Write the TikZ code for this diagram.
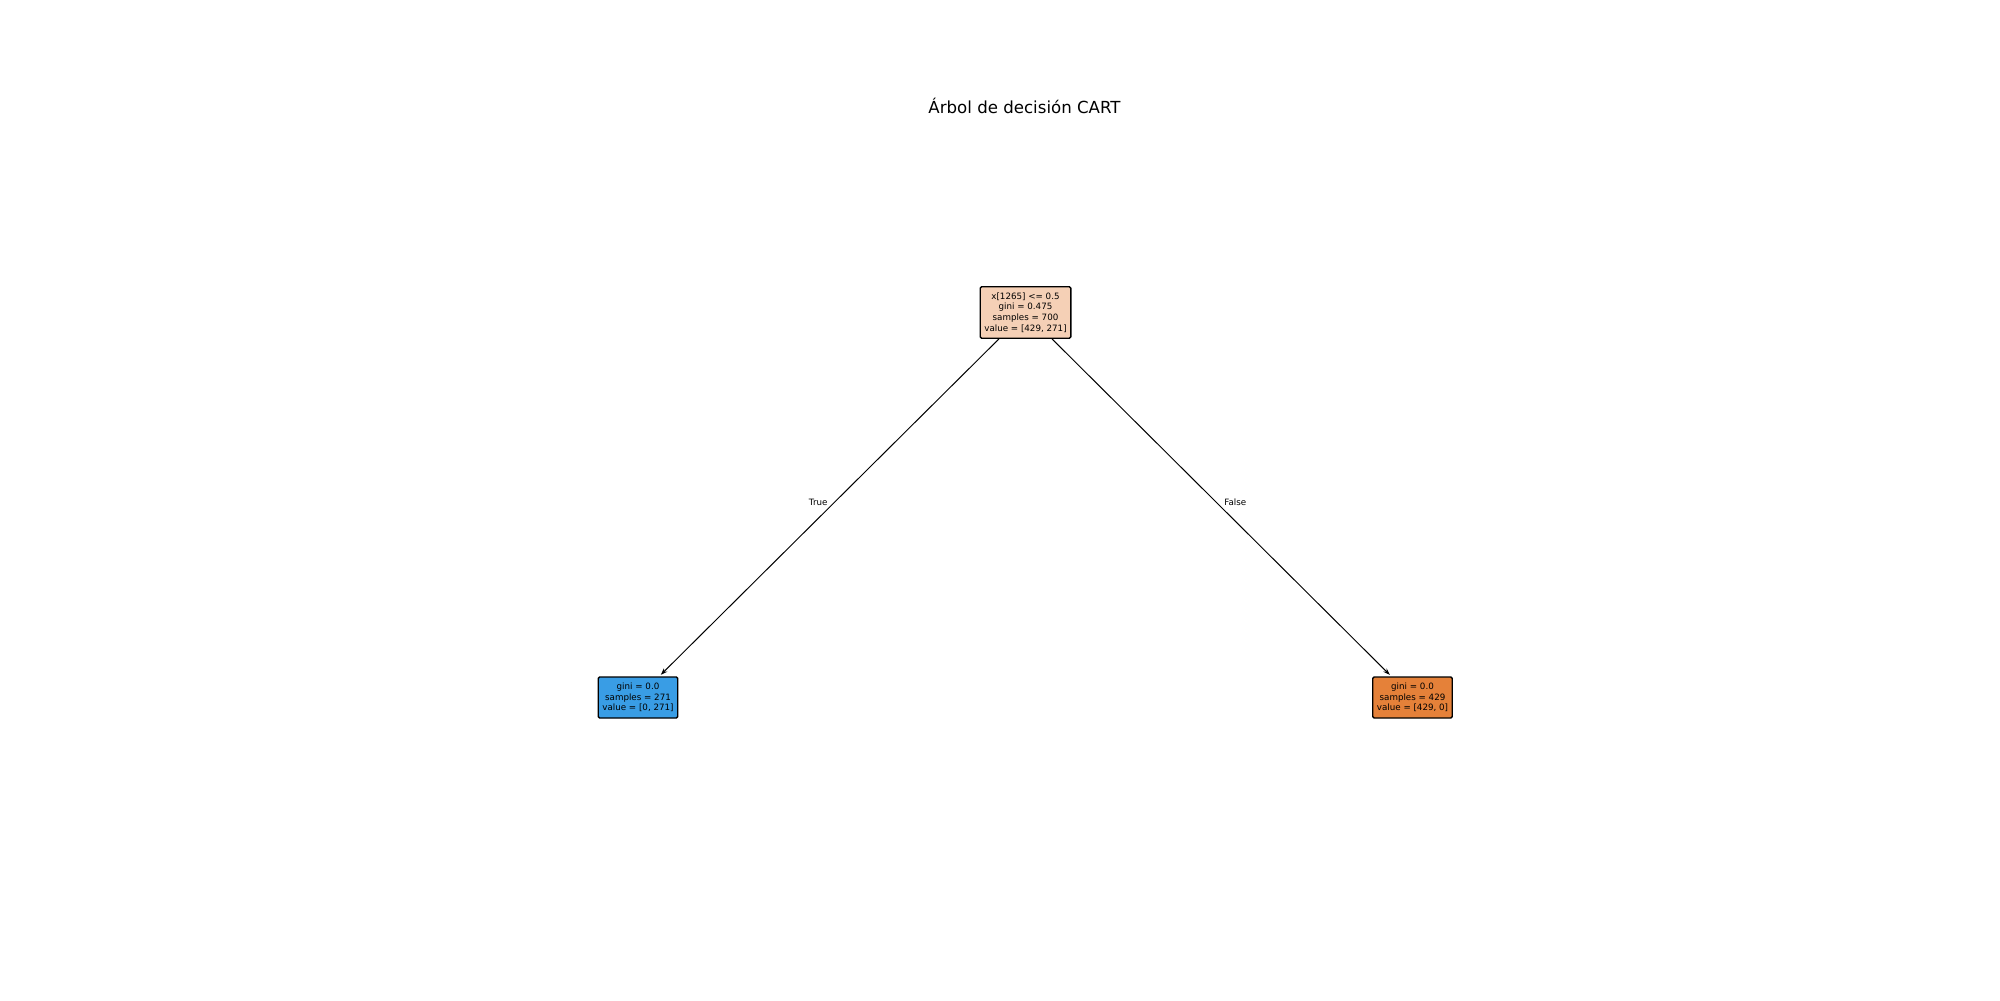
\documentclass[tikz,border=0pt]{standalone}
\usepackage{fontspec}
\setmainfont{DejaVu Sans}
\usepackage{xcolor}
\usetikzlibrary{arrows.meta,positioning}

\definecolor{rootfill}{HTML}{F5D0B6}
\definecolor{bluefill}{HTML}{399DE5}
\definecolor{orangefill}{HTML}{E58139}

\begin{document}
\begin{tikzpicture}[
    x=0.01in, y=-0.01in,
    tnode/.style={
        rectangle, draw=black, line width=1pt, rounded corners=1pt,
        align=center, inner xsep=3pt, inner ysep=4.4pt,
        font=\fontsize{6.3}{7.6}\selectfont, fill=#1,
    },
    edge/.style={-{Stealth[length=5pt,width=3.5pt]}, line width=0.7pt, shorten >=1.5pt, shorten <=0pt},
    elabel/.style={font=\fontsize{6.3}{7.6}\selectfont, inner sep=1pt},
]
\useasboundingbox (0,0) rectangle (2000,1000);

% Title
\node[font=\fontsize{12}{14}\selectfont] (title) at (1024.5,106) {Árbol de decisión CART};

% Tree
\node[tnode=rootfill] (root) at (1025.5,312.5) {x[1265] <= 0.5\\gini = 0.475\\samples = 700\\value = [429, 271]};
\node[tnode=bluefill] (leafL) at (638,697.5) {gini = 0.0\\samples = 271\\value = [0, 271]};
\node[tnode=orangefill] (leafR) at (1412.5,697.5) {gini = 0.0\\samples = 429\\value = [429, 0]};

\draw[edge] (root) -- node[elabel, pos=0.483, left=0.055in] (lblT) {True} (leafL);
\draw[edge] (root) -- node[elabel, pos=0.483, right=0.065in] (lblF) {False} (leafR);

\end{tikzpicture}
\end{document}
